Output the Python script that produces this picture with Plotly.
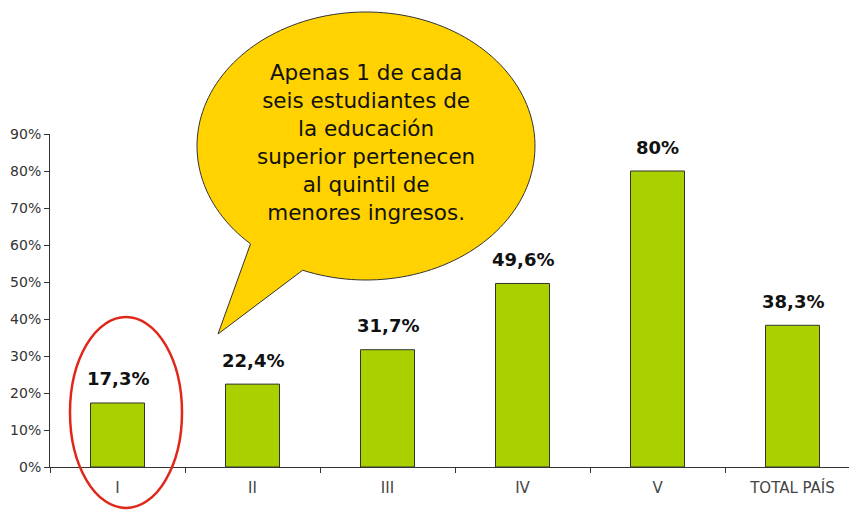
import numpy as np
import plotly.graph_objects as go

categories = ["I", "II", "III", "IV", "V", "TOTAL PAÍS"]
values = [17.3, 22.4, 31.7, 49.6, 80.0, 38.3]
value_labels = ["17,3%", "22,4%", "31,7%", "49,6%", "80%", "38,3%"]
y_ticks = [0, 10, 20, 30, 40, 50, 60, 70, 80, 90]
bubble_lines = ["Apenas 1 de cada", "seis estudiantes de", "la educación",
                "superior pertenecen", "al quintil de", "menores ingresos."]

# page has an 8px body margin, so the figure starts at (8, 8) in the window
OFF = 8
W, H = 857 - OFF, 510 - OFF
PX0, PX1, PY0, PY1 = 50, 857, 134, 467   # plot area in window pixels
L, T = PX0 - OFF, PY0 - OFF
PW, PH = PX1 - PX0, PY1 - PY0
R, B = W - L - PW, H - T - PH
band = 135.0


def px(x):
    return (x - PX0) / PW


def py(y):
    return (PY1 - y) / PH


fig = go.Figure()
fig.add_trace(go.Bar(
    x=categories, y=values,
    marker=dict(color="#A9D100", line=dict(color="#333333", width=1)),
    width=0.4, hoverinfo="skip",
))

for c, v, t in zip(categories, values, value_labels):
    fig.add_annotation(x=c, y=v, xref="x", yref="y", text=t, showarrow=False,
                       yanchor="middle", yshift=24,
                       font=dict(family="DejaVu Sans", size=18, color="#111111", weight="bold"))

# speech bubble (pixel geometry -> paper coords)
cx, cy, rx, ry = 366, 146, 169, 134
a0, a1 = np.deg2rad(248), np.deg2rad(226.9 + 360)
th = np.linspace(a0, a1, 160)
xs = cx + rx * np.cos(th)
ys = cy - ry * np.sin(th)
pts = [(px(x), py(y)) for x, y in zip(xs, ys)]
pts.append((px(218), py(334)))
path = "M " + " L ".join(f"{a:.5f},{b:.5f}" for a, b in pts) + " Z"
fig.add_shape(type="path", path=path, xref="paper", yref="paper",
              fillcolor="#FFD200", line=dict(color="#333333", width=1), layer="above")

fig.add_annotation(x=px(366), y=py(143), xref="paper", yref="paper",
                   text="<br>".join(bubble_lines), showarrow=False,
                   xanchor="center", yanchor="middle", align="center",
                   font=dict(family="DejaVu Sans", size=21.5, color="#111111"))

# red highlight ellipse
fig.add_shape(type="circle", xref="paper", yref="paper",
              x0=px(70), x1=px(182), y0=py(508), y1=py(317),
              line=dict(color="#E0281A", width=2.5), fillcolor="rgba(0,0,0,0)", layer="above")

fig.update_layout(
    width=W, height=H,
    margin=dict(l=L, r=R, t=T, b=B, pad=0),
    plot_bgcolor="white", paper_bgcolor="white",
    showlegend=False,
    font=dict(family="DejaVu Sans"),
    bargap=0.6,
)
fig.update_xaxes(
    range=[-0.5, -0.5 + PW / band],
    showline=True, linecolor="#333333", linewidth=1,
    ticks="outside", tickson="boundaries", ticklen=5, tickcolor="#333333",
    tickfont=dict(size=15, color="#444444"), ticklabelstandoff=7,
    showgrid=False, zeroline=False, fixedrange=True, automargin=False,
)
fig.update_yaxes(
    range=[0, 90], tickvals=y_ticks, ticktext=[f"{v}%" for v in y_ticks],
    showline=True, linecolor="#333333", linewidth=1,
    ticks="outside", ticklen=5, tickcolor="#333333",
    tickfont=dict(size=14, color="#333333"),
    showgrid=False, zeroline=False, fixedrange=True, automargin=False,
)

fig.write_html("out.html")
